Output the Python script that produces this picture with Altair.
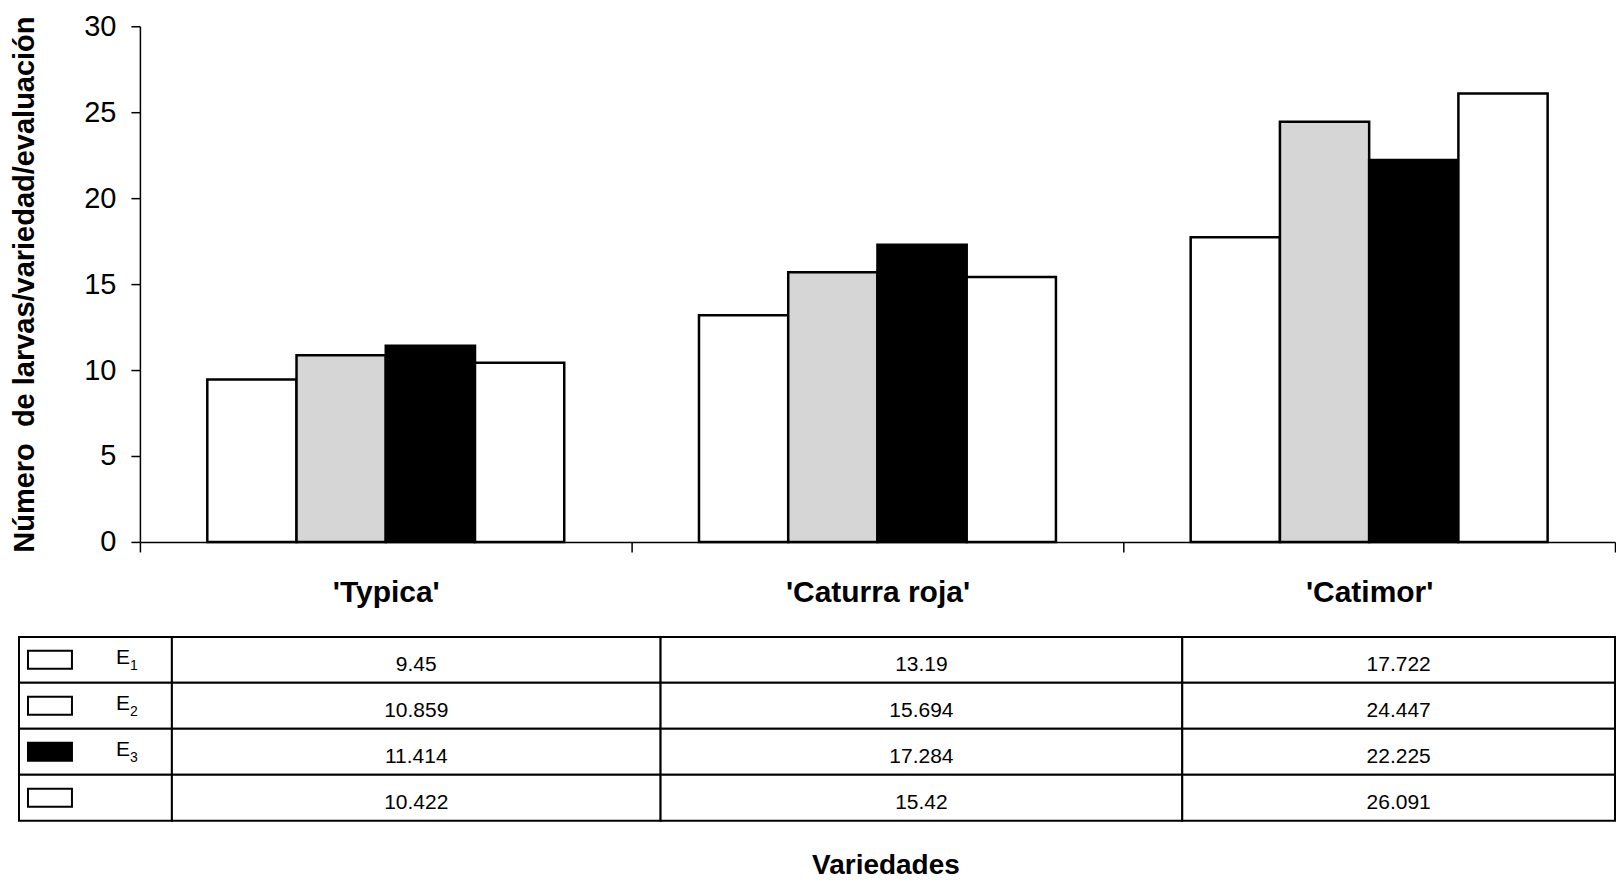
import altair as alt
import pandas as pd

categories = ["'Typica'", "'Caturra roja'", "'Catimor'"]
series_ids = ["E1", "E2", "E3", "E4"]
series_main = ["E", "E", "E", ""]
series_sub = ["1", "2", "3", ""]
e1 = [9.45, 13.19, 17.722]
e2 = [10.859, 15.694, 24.447]
e3 = [11.414, 17.284, 22.225]
e4 = [10.422, 15.42, 26.091]
fills = ["#ffffff", "#d6d6d6", "#000000", "#ffffff"]
swatch_fills = ["#ffffff", "#ffffff", "#000000", "#ffffff"]
y_ticks = [0, 5, 10, 15, 20, 25, 30]
y_title = "Número\u00a0 de larvas/variedad/evaluación"
x_title = "Variedades"

rows = []
for sid, vals in zip(series_ids, [e1, e2, e3, e4]):
    for c, v in zip(categories, vals):
        rows.append({"cat": c, "serie": sid, "valor": v, "texto": str(v)})
df = pd.DataFrame(rows)
legend_df = pd.DataFrame({"serie": series_ids, "main": series_main, "sub": series_sub})

FONT = "Liberation Sans"
W = 1476
H = 516
LABEL_W = 32        # part of the label column right of the plot origin
LABEL_LEFT = -121   # part of the label column left of the plot origin
COL_W = [489, 522, 433]
TABLE_H = 184
NOVIEW = alt.ViewBackground(stroke="transparent", strokeWidth=0)

# ---------------- bar chart ----------------
bars = alt.Chart(df).mark_bar(stroke="black", strokeWidth=2.5).encode(
    x=alt.X(
        "cat:N",
        sort=categories,
        scale=alt.Scale(domain=categories, paddingInner=0, paddingOuter=0),
        axis=alt.Axis(
            title=None,
            labelAngle=0,
            labelFont=FONT,
            labelFontSize=30,
            labelFontWeight="bold",
            labelColor="black",
            labelPadding=26,
            labelLimit=0,
            tickBand="extent",
            tickSize=10,
            tickColor="black",
            tickWidth=1.5,
            domainColor="black",
            domainWidth=1.5,
        ),
    ),
    xOffset=alt.XOffset(
        "serie:N",
        sort=series_ids,
        scale=alt.Scale(domain=series_ids, paddingInner=0, paddingOuter=0.755),
    ),
    y=alt.Y(
        "valor:Q",
        scale=alt.Scale(domain=[0, 30], nice=False),
        axis=alt.Axis(
            values=y_ticks,
            title=y_title,
            titleFont=FONT,
            titleFontSize=29,
            titleFontWeight="bold",
            titleColor="black",
            titlePadding=44,
            labelFont=FONT,
            labelFontSize=29,
            labelColor="black",
            labelPadding=15,
            tickSize=9,
            tickColor="black",
            tickWidth=1.5,
            domainColor="black",
            domainWidth=1.5,
            grid=False,
        ),
    ),
    fill=alt.Fill("serie:N", scale=alt.Scale(domain=series_ids, range=fills), legend=None),
).properties(width=W, height=H, view=NOVIEW)

# ---------------- table: label column ----------------
yrow = alt.Y(
    "serie:N",
    sort=series_ids,
    axis=None,
    scale=alt.Scale(domain=series_ids, paddingInner=0, paddingOuter=0),
)

lab_cells = alt.Chart(legend_df).mark_rect(fill="white", stroke="black", strokeWidth=2).encode(
    y=yrow, x=alt.value(LABEL_LEFT), x2=alt.value(LABEL_W)
)
lab_swatch = alt.Chart(legend_df).mark_bar(height=18, stroke="black", strokeWidth=2).encode(
    y=yrow,
    x=alt.value(LABEL_LEFT + 9),
    x2=alt.value(LABEL_LEFT + 53),
    color=alt.Color("serie:N", scale=alt.Scale(domain=series_ids, range=swatch_fills), legend=None),
)
lab_main = alt.Chart(legend_df).mark_text(
    font=FONT, fontSize=21, align="left", baseline="alphabetic", color="black", dy=4
).encode(y=yrow, x=alt.value(LABEL_LEFT + 97), text="main:N")
lab_sub = alt.Chart(legend_df).mark_text(
    font=FONT, fontSize=14, align="left", baseline="alphabetic", color="black", dy=10
).encode(y=yrow, x=alt.value(LABEL_LEFT + 111), text="sub:N")

label_col = alt.layer(lab_cells, lab_swatch, lab_main, lab_sub).properties(
    width=LABEL_W, height=TABLE_H, view=NOVIEW
)

# ---------------- table: value columns ----------------
def value_column(cat, width, title=None):
    if title is None:
        axis = None
    else:
        axis = alt.Axis(
            title=title,
            labels=False,
            ticks=False,
            domain=False,
            titleFont=FONT,
            titleFontSize=28,
            titleFontWeight="bold",
            titleColor="black",
            titlePadding=31,
            titleX=225,
        )
    xc = alt.X("cat:N", scale=alt.Scale(paddingInner=0, paddingOuter=0), axis=axis)
    base = alt.Chart(df).transform_filter(alt.datum.cat == cat)
    cells = base.mark_rect(fill="white", stroke="black", strokeWidth=2).encode(x=xc, y=yrow)
    txt = base.mark_text(
        font=FONT, fontSize=21, align="center", baseline="middle", color="black", dy=5
    ).encode(x=xc, y=yrow, text="texto:N")
    return alt.layer(cells, txt).properties(width=width, height=TABLE_H, view=NOVIEW)

col_charts = [
    value_column(categories[0], COL_W[0]),
    value_column(categories[1], COL_W[1], x_title),
    value_column(categories[2], COL_W[2]),
]

table = alt.hconcat(label_col, *col_charts, spacing=0, bounds="flush").resolve_scale(
    x="independent", y="shared"
)

chart = (
    alt.concat(bars, table, columns=1, spacing=28)
    .properties(padding={"left": 10, "top": 12, "right": 0, "bottom": 2})
    .configure_view(stroke="transparent", strokeWidth=0)
    .configure(background="white")
)

chart.save("out.html", embed_options={"renderer": "svg", "actions": False})
